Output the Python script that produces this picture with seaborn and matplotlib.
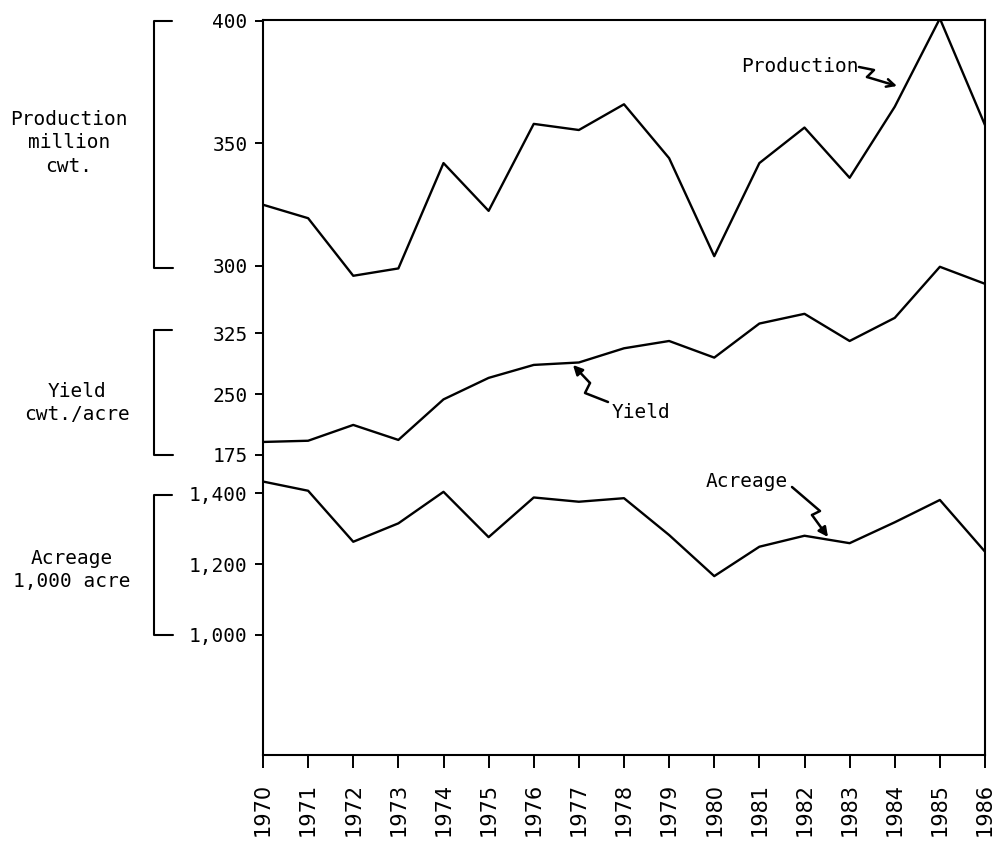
# %% Imports

import pandas as pd
import seaborn as sns
import matplotlib.pyplot as plt
from matplotlib.lines import Line2D

# %% Data

years = list(range(1970, 1987))
production = [325, 319.5, 296, 299, 342, 322.5, 358, 355.5, 366, 344,
              304, 342, 356.5, 336, 365, 401, 357.5]
yield_cwt = [191, 192.5, 212, 193.5, 243.5, 270, 286, 289, 306.5, 315.5,
             295, 337, 349, 315.5, 344, 407, 386]
acreage = [1433, 1407, 1263, 1315, 1404, 1276, 1388, 1376, 1386, 1282,
           1166, 1249, 1280, 1259, 1318, 1381, 1235]

prod_ticks = [300, 350, 400]
yield_ticks = [175, 250, 325]
acre_ticks = [1000, 1200, 1400]
acre_labels = ["1,000", "1,200", "1,400"]

df = pd.DataFrame({"year": years, "production": production,
                   "yield": yield_cwt, "acreage": acreage})

# %% Figure setup

sns.set_style("ticks")
plt.rcParams['font.family'] = ['DejaVu Sans Mono']
plt.rcParams['text.color'] = 'black'
plt.rcParams['xtick.color'] = 'black'
plt.rcParams['ytick.color'] = 'black'

W, H = 995, 841
fig = plt.figure(figsize=(W / 100, H / 100), dpi=100)
rect = [263 / W, 1 - 755 / H, 722 / W, 735 / H]


def fx(x):
    return x / W


def fy(y):
    return 1 - y / H


def style_y(ax):
    ax.tick_params(axis='y', direction='out', length=6, width=1.4,
                   pad=5, labelsize=14, colors='black')
    ax.set_xlabel("")
    ax.set_ylabel("")


# %% Production (main axes, carries the frame and the year axis)

ax_p = fig.add_axes(rect)
sns.lineplot(data=df, x="year", y="production", ax=ax_p,
             color="black", linewidth=1.7)
ax_p.set_xlim(1970, 1986)
ax_p.set_ylim(100.4, 400.4)
ax_p.set_yticks(prod_ticks)
ax_p.set_xticks(years)
ax_p.set_xticklabels([str(y) for y in years], rotation=90,
                     family='DejaVu Sans', fontsize=15)
ax_p.tick_params(axis='x', direction='out', length=9, width=1.4, pad=11)
style_y(ax_p)
for s in ax_p.spines.values():
    s.set_linewidth(1.5)
    s.set_color("black")

# %% Yield and acreage on overlaid axes with their own scales

ax_y = fig.add_axes(rect, facecolor="none")
sns.lineplot(data=df, x="year", y="yield", ax=ax_y,
             color="black", linewidth=1.7)
ax_y.set_xlim(1970, 1986)
ax_y.set_ylim(-195, 711.3)
ax_y.set_yticks(yield_ticks)

ax_a = fig.add_axes(rect, facecolor="none")
sns.lineplot(data=df, x="year", y="acreage", ax=ax_a,
             color="black", linewidth=1.7)
ax_a.set_xlim(1970, 1986)
ax_a.set_ylim(661, 2736)
ax_a.set_yticks(acre_ticks)
ax_a.set_yticklabels(acre_labels)

for ax in (ax_y, ax_a):
    style_y(ax)
    ax.tick_params(axis='x', bottom=False, labelbottom=False)
    for s in ax.spines.values():
        s.set_visible(False)

# %% Left brackets and unit labels

brackets = [(21, 268), (330, 455), (495, 635)]
for top, bot in brackets:
    fig.add_artist(Line2D([fx(172), fx(154), fx(154), fx(173)],
                          [fy(top), fy(top), fy(bot), fy(bot)],
                          color="black", linewidth=1.5))

fig.text(fx(69), fy(143), "Production\nmillion\ncwt.", ha="center",
         va="center", fontsize=14, linespacing=1.3)
fig.text(fx(77), fy(403), "Yield\ncwt./acre", ha="center",
         va="center", fontsize=14, linespacing=1.3)
fig.text(fx(72), fy(570), "Acreage\n1,000 acre", ha="center",
         va="center", fontsize=14, linespacing=1.3)

# %% Series labels with squiggly arrows


def squiggle(pts, head="-|>"):
    xs = [fx(p[0]) for p in pts[:-1]]
    ys = [fy(p[1]) for p in pts[:-1]]
    fig.add_artist(Line2D(xs, ys, color="black", linewidth=1.8))
    ax_p.annotate("", xy=(fx(pts[-1][0]), fy(pts[-1][1])),
                  xytext=(fx(pts[-2][0]), fy(pts[-2][1])),
                  xycoords="figure fraction", textcoords="figure fraction",
                  arrowprops=dict(arrowstyle=head, color="black", lw=1.8,
                                  shrinkA=0, shrinkB=0,
                                  mutation_scale=14))


fig.text(fx(741), fy(66), "Production", ha="left", va="center", fontsize=14)
squiggle([(859, 67), (874, 70), (867, 77), (897, 86)], head="->")

fig.text(fx(612), fy(412), "Yield", ha="left", va="center", fontsize=14)
squiggle([(608, 402), (585, 393), (590, 383), (573, 365)])

fig.text(fx(706), fy(482), "Acreage", ha="left", va="center", fontsize=14)
squiggle([(792, 487), (820, 511), (812, 515), (828, 537)])

plt.savefig("out.png", dpi=100)
